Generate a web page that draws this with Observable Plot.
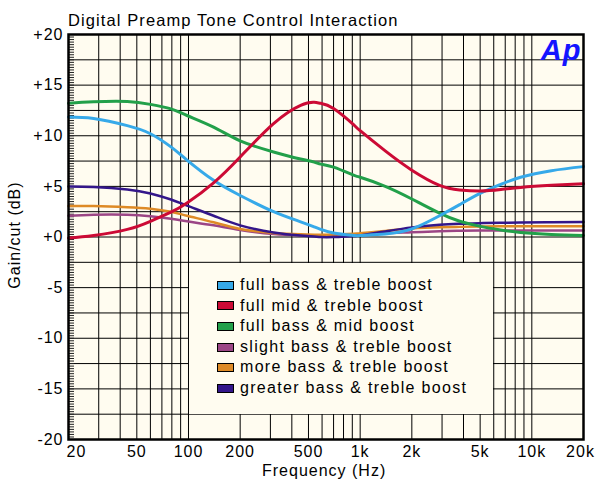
<!DOCTYPE html>
<html><head><meta charset="utf-8">
<script src="https://cdn.jsdelivr.net/npm/d3@7"></script>
<script src="https://cdn.jsdelivr.net/npm/@observablehq/plot@0.6"></script>
<style>
body{margin:0;background:#fff;}
#wrap{position:relative;width:596px;height:482px;font-family:"Liberation Sans",Arial,sans-serif;color:#000;}
#wrap svg{position:absolute;left:0;top:0;}
#title{position:absolute;left:68px;top:11px;font-size:16.5px;letter-spacing:1.1px;white-space:nowrap;}
#xlabel{position:absolute;left:262px;top:462px;font-size:16px;letter-spacing:1px;white-space:nowrap;}
#ylabel{position:absolute;left:-45px;top:226px;width:120px;text-align:center;font-size:16px;letter-spacing:1px;white-space:nowrap;transform:rotate(-90deg);}
#legbg{position:absolute;left:189px;top:263px;width:304px;height:151px;background:#fffcf0;}
#legend{position:absolute;left:217px;top:275px;font-size:16px;letter-spacing:1.3px;}
.row{height:20.6px;line-height:20.6px;display:flex;align-items:center;white-space:nowrap;}
.sw{width:15px;height:7px;border:1.5px solid #000;margin-right:6px;flex:none;}
</style>
</head><body>
<div id="wrap"></div>
<script>
// ---- data ----
const freqs = [20, 28, 44, 60, 79, 98, 140, 200, 313, 450, 540, 590, 700, 915, 1000, 1400, 2000, 2900, 3800, 5000, 6600, 8600, 13000, 20000];
const seriesNames = ["full bass & treble boost", "full mid & treble boost", "full bass & mid boost", "slight bass & treble boost", "more bass & treble boost", "greater bass & treble boost"];
const seriesColors = ["#36a9e9", "#cc0a35", "#22a04a", "#9b4585", "#de8a26", "#33168a"];
const fullBassTreble = [11.85, 11.7, 11.0, 10.2, 8.9, 7.6, 5.6, 4.1, 2.5, 1.5, 1.0, 0.75, 0.4, 0.15, 0.15, 0.3, 0.8, 2.1, 3.2, 4.3, 5.2, 5.9, 6.55, 6.95];
const fullMidTreble = [-0.1, 0.15, 0.75, 1.55, 2.45, 3.35, 5.35, 7.9, 11.2, 13.0, 13.3, 13.2, 12.7, 11.1, 10.5, 8.5, 6.6, 5.1, 4.65, 4.55, 4.7, 4.9, 5.1, 5.25];
const fullBassMid = [13.2, 13.35, 13.38, 13.1, 12.65, 12.0, 10.85, 9.5, 8.4, 7.7, 7.4, 7.2, 6.9, 6.1, 5.9, 5.0, 3.75, 2.35, 1.55, 1.05, 0.7, 0.45, 0.25, 0.15];
const slightBassTreble = [2.1, 2.2, 2.2, 2.05, 1.8, 1.55, 1.15, 0.7, 0.3, 0.18, 0.15, 0.14, 0.15, 0.22, 0.25, 0.38, 0.47, 0.57, 0.61, 0.64, 0.65, 0.65, 0.65, 0.65];
const moreBassTreble = [3.05, 3.05, 2.95, 2.8, 2.5, 2.1, 1.45, 0.8, 0.4, 0.27, 0.23, 0.22, 0.25, 0.33, 0.38, 0.6, 0.85, 0.97, 1.0, 1.03, 1.05, 1.06, 1.07, 1.07];
const greaterBassTreble = [5.0, 4.95, 4.7, 4.3, 3.7, 3.1, 2.1, 1.15, 0.45, 0.15, 0.05, 0.0, 0.0, 0.1, 0.15, 0.55, 0.95, 1.2, 1.3, 1.37, 1.4, 1.43, 1.45, 1.47];
const xTicks = [20, 50, 100, 200, 500, 1000, 2000, 5000, 10000, 20000];
const xTickLabels = ["20", "50", "100", "200", "500", "1k", "2k", "5k", "10k", "20k"];
const yTicks = [-20, -15, -10, -5, 0, 5, 10, 15, 20];
const xGrid = [30,40,50,60,70,80,90,100,200,300,400,500,600,700,800,900,1000,2000,3000,4000,5000,6000,7000,8000,9000,10000];
const yGrid = [-17.5,-15,-12.5,-10,-7.5,-5,-2.5,0,2.5,5,7.5,10,12.5,15,17.5];
const yMinor = d3.range(-20, 20.001, 0.25);

const seriesValues = [fullBassTreble, fullMidTreble, fullBassMid, slightBassTreble, moreBassTreble, greaterBassTreble];
const drawOrder = [3, 4, 5, 2, 0, 1];
const widths = [3, 3, 3, 2.5, 2.5, 2.5];
const table = drawOrder.flatMap(i => freqs.map((f, j) => ({series: seriesNames[i], f, v: seriesValues[i][j]})));

const labelOf = new Map(xTicks.map((t, i) => [t, xTickLabels[i]]));
const fmtY = d => d >= 0 ? "+" + d : String(d);
const midTicks = xTicks.slice(1, -1);

const chart = Plot.plot({
  width: 596, height: 482,
  marginTop: 34, marginBottom: 43, marginLeft: 68, marginRight: 13,
  style: {fontFamily: "Liberation Sans, Arial, sans-serif", fontSize: "16px", letterSpacing: "1px", background: "transparent", color: "#000"},
  x: {type: "log", domain: [20, 20000], label: null, axis: null},
  y: {domain: [-20, 20], label: null},
  color: {domain: seriesNames, range: seriesColors},
  marks: [
    Plot.frame({fill: "#fffcf0", stroke: null}),
    Plot.ruleX(xGrid, {stroke: "#000", strokeWidth: 1}),
    Plot.ruleY(yGrid, {stroke: "#000", strokeWidth: 1}),
    Plot.axisY(yMinor, {anchor: "left", tickSize: 6, dx: 6, tickFormat: () => "", stroke: "#222"}),
    Plot.axisY(yTicks, {anchor: "left", tickSize: 0, tickPadding: 5, tickFormat: fmtY, label: null, fill: "#000"}),
    Plot.text(midTicks, {x: d => d, frameAnchor: "bottom", dy: 6, lineAnchor: "top", text: d => labelOf.get(d), fill: "#000"}),
    Plot.text([xTicks[0]], {x: d => d, frameAnchor: "bottom", dy: 6, dx: -2, lineAnchor: "top", textAnchor: "start", text: d => labelOf.get(d), fill: "#000"}),
    Plot.text([xTicks[xTicks.length - 1]], {x: d => d, frameAnchor: "bottom", dy: 6, dx: -3, lineAnchor: "top", text: d => labelOf.get(d), fill: "#000"}),
    ...drawOrder.map(i => Plot.line(table.filter(d => d.series === seriesNames[i]), {x: "f", y: "v", stroke: "series", strokeWidth: widths[i], curve: "natural"})),
    Plot.text(["Ap"], {frameAnchor: "top-right", dx: -2, dy: 5, text: d => d, fill: "#1414ff", fontSize: 29, fontWeight: "bold", fontStyle: "italic", textAnchor: "end", lineAnchor: "top", letterSpacing: "-1.5px"}),
    Plot.frame({stroke: "#000", strokeWidth: 2.5})
  ]
});

const wrap = document.getElementById("wrap");
wrap.appendChild(chart);
const mk = (id, txt) => { const d = document.createElement("div"); d.id = id; if (txt) d.textContent = txt; wrap.appendChild(d); return d; };
mk("title", "Digital Preamp Tone Control Interaction");
mk("xlabel", "Frequency (Hz)");
mk("ylabel", "Gain/cut (dB)");
mk("legbg");
const leg = mk("legend");
seriesNames.forEach((n, i) => {
  const r = document.createElement("div"); r.className = "row";
  const s = document.createElement("span"); s.className = "sw"; s.style.background = seriesColors[i];
  r.appendChild(s); r.appendChild(document.createTextNode(n)); leg.appendChild(r);
});
</script>
</body></html>
